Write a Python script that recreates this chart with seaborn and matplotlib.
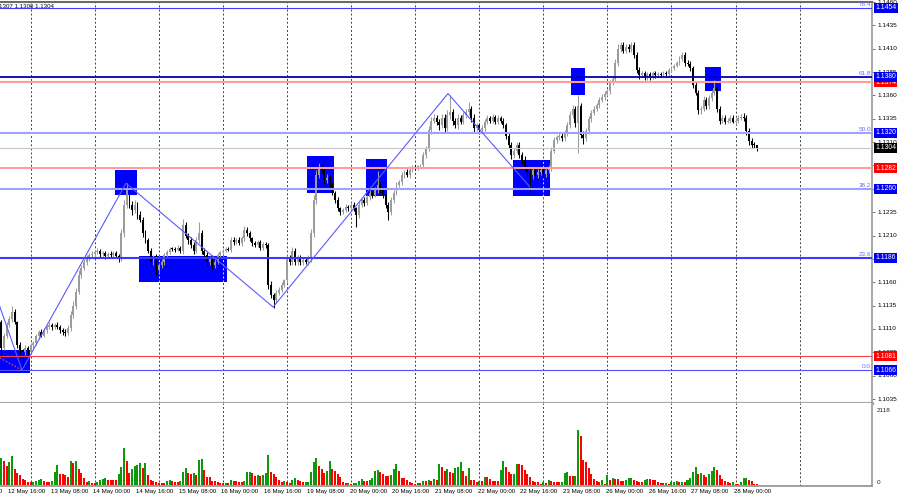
import numpy as np
import pandas as pd
import matplotlib
matplotlib.use("Agg")
import matplotlib.pyplot as plt
import matplotlib.transforms as mtransforms
from matplotlib.patches import Rectangle
import seaborn as sns

# ------------------------------------------------------------------ data
# EURUSD H1, 12 May 13:00 .. 28 May 08:00 (bar index 0 .. 283)
first_open = 1118  # pips: 1118 -> 1.1118
close_pips = [
    1090, 1103, 1114, 1121, 1128, 1117, 1093, 1087, 1085, 1090, 1085,
    1093, 1095, 1102, 1107, 1103, 1109, 1112, 1114, 1112, 1114, 1112, 1109, 1107,
    1106, 1111, 1125, 1135, 1150, 1168, 1175, 1182, 1186, 1189, 1190, 1192,
    1194, 1190, 1191, 1188, 1190, 1189, 1191, 1188, 1186, 1213, 1243, 1259,
    1243, 1237, 1243, 1232, 1227, 1213, 1205, 1194, 1182, 1186, 1173, 1178,
    1182, 1189, 1192, 1196, 1196, 1195, 1197, 1194, 1221, 1210, 1205, 1200,
    1194, 1205, 1213, 1194, 1189, 1182, 1186, 1178, 1182, 1189, 1192, 1194,
    1196, 1195, 1205, 1203, 1205, 1202, 1207, 1216, 1213, 1207, 1202, 1200,
    1203, 1197, 1201, 1200, 1157, 1146, 1141, 1149, 1152, 1157, 1162, 1186,
    1182, 1194, 1182, 1186, 1182, 1184, 1182, 1186, 1213, 1248, 1275, 1282,
    1280, 1269, 1272, 1264, 1256, 1248, 1239, 1235, 1237, 1241, 1239, 1243,
    1239, 1232, 1243, 1248, 1245, 1251, 1256, 1253, 1259, 1264, 1259, 1253,
    1243, 1235, 1248, 1256, 1264, 1267, 1275, 1278, 1275, 1280, 1283, 1282,
    1284, 1285, 1296, 1303, 1323, 1333, 1336, 1332, 1328, 1336, 1325, 1339,
    1342, 1333, 1328, 1336, 1332, 1339, 1342, 1346, 1336, 1325, 1328, 1323,
    1325, 1332, 1336, 1333, 1337, 1332, 1336, 1333, 1328, 1317, 1307, 1296,
    1301, 1307, 1296, 1291, 1282, 1278, 1275, 1280, 1275, 1278, 1280, 1276,
    1280, 1282, 1301, 1312, 1315, 1317, 1314, 1320, 1328, 1339, 1346, 1330,
    1349, 1318, 1314, 1322, 1335, 1341, 1346, 1350, 1355, 1358, 1362, 1365,
    1374, 1378, 1395, 1410, 1414, 1408, 1412, 1410, 1414, 1403, 1387, 1382,
    1384, 1379, 1383, 1380, 1384, 1382, 1383, 1382, 1384, 1383, 1387, 1389,
    1392, 1395, 1399, 1403, 1395, 1394, 1389, 1371, 1363, 1344, 1346, 1355,
    1349, 1357, 1363, 1368, 1346, 1333, 1336, 1332, 1333, 1336, 1332, 1333,
    1336, 1337, 1336, 1322, 1311, 1307, 1307, 1304,
]
wick_up = [
    2, 3, 4, 3, 7, 3, 2, 3, 2, 3, 2,
    2, 2, 3, 2, 3, 2, 2, 3, 2, 2, 3, 2, 2,
    3, 3, 4, 5, 4, 5, 3, 3, 3, 2, 4, 3,
    3, 2, 3, 2, 2, 3, 2, 2, 2, 4, 5, 7,
    5, 4, 5, 3, 4, 3, 3, 2, 3, 3, 4, 3,
    3, 2, 3, 2, 2, 2, 3, 2, 7, 4, 3, 3,
    3, 4, 11, 3, 3, 3, 2, 3, 3, 2, 2, 2,
    2, 2, 3, 3, 2, 3, 3, 4, 3, 2, 2, 2,
    2, 2, 2, 2, 2, 4, 3, 3, 3, 3, 2, 3,
    3, 4, 3, 3, 3, 2, 3, 3, 4, 5, 5, 6,
    4, 3, 4, 3, 3, 2, 3, 2, 2, 3, 2, 3,
    3, 2, 3, 2, 3, 2, 3, 2, 3, 15, 3, 3,
    3, 3, 3, 3, 3, 3, 3, 2, 3, 2, 2, 2,
    2, 2, 3, 3, 4, 4, 4, 3, 3, 4, 4, 5,
    18, 4, 3, 4, 3, 3, 3, 7, 3, 4, 3, 3,
    3, 3, 3, 2, 3, 2, 3, 2, 3, 3, 3, 3,
    3, 3, 3, 3, 4, 4, 3, 3, 3, 3, 3, 3,
    3, 3, 4, 4, 3, 3, 3, 3, 4, 4, 4, 3,
    11, 3, 4, 3, 3, 3, 3, 2, 3, 3, 3, 2,
    3, 3, 4, 5, 3, 3, 3, 3, 3, 3, 4, 3,
    2, 2, 2, 2, 2, 2, 2, 2, 2, 2, 2, 2,
    2, 2, 3, 3, 3, 3, 3, 3, 3, 3, 3, 4,
    3, 3, 3, 8, 3, 3, 3, 3, 3, 3, 3, 3,
    3, 3, 4, 3, 3, 3, 3, 0,
]
wick_dn = [
    10, 2, 3, 2, 3, 2, 3, 4, 19, 3, 2,
    2, 3, 2, 3, 2, 2, 3, 2, 3, 2, 2, 3, 3,
    4, 2, 3, 3, 4, 3, 3, 2, 3, 3, 2, 3,
    2, 3, 2, 3, 2, 2, 3, 2, 4, 3, 5, 4,
    4, 5, 3, 4, 3, 4, 3, 3, 4, 3, 5, 3,
    3, 3, 2, 2, 2, 3, 2, 3, 4, 3, 4, 3,
    4, 3, 3, 4, 3, 3, 3, 4, 3, 2, 2, 3,
    2, 2, 3, 3, 2, 2, 3, 3, 3, 3, 3, 2,
    2, 2, 2, 3, 4, 3, 8, 3, 3, 2, 2, 3,
    3, 3, 4, 3, 3, 3, 2, 3, 4, 5, 4, 3,
    3, 4, 3, 4, 3, 3, 3, 3, 2, 2, 3, 2,
    3, 13, 3, 2, 3, 2, 3, 3, 2, 3, 3, 3,
    4, 8, 3, 3, 3, 2, 3, 3, 2, 3, 2, 2,
    2, 2, 3, 3, 3, 4, 3, 4, 5, 3, 5, 3,
    4, 5, 3, 4, 3, 3, 3, 3, 4, 4, 3, 4,
    3, 3, 3, 3, 2, 3, 3, 3, 3, 4, 3, 4,
    3, 3, 3, 4, 4, 5, 18, 4, 4, 3, 3, 4,
    3, 3, 3, 3, 3, 3, 3, 3, 3, 3, 3, 4,
    32, 4, 6, 3, 3, 3, 2, 3, 3, 2, 3, 3,
    3, 3, 3, 3, 3, 3, 3, 3, 3, 3, 3, 4,
    2, 3, 2, 4, 2, 3, 2, 2, 2, 2, 2, 2,
    2, 2, 2, 2, 3, 3, 3, 3, 3, 4, 4, 3,
    3, 3, 3, 3, 4, 4, 3, 3, 2, 3, 2, 3,
    2, 2, 3, 4, 4, 3, 3, 4,
]
volume = [
    757, 680, 540, 650, 820, 465, 350, 285, 180, 130,
    85, 85, 95, 115, 150, 170, 115, 95, 85, 115,
    380, 560, 320, 320, 285, 230, 680, 635, 680, 445,
    350, 190, 85, 115, 65, 65, 75, 130, 170, 210,
    130, 130, 130, 130, 320, 510, 1040, 680, 350, 455,
    540, 570, 625, 490, 625, 285, 130, 115, 95, 65,
    55, 55, 115, 150, 115, 85, 85, 115, 360, 475,
    330, 300, 350, 285, 700, 730, 435, 230, 230, 115,
    105, 95, 65, 45, 55, 55, 140, 105, 105, 85,
    75, 115, 370, 380, 340, 255, 285, 255, 285, 350,
    840, 370, 320, 230, 130, 95, 115, 75, 65, 150,
    190, 130, 115, 75, 85, 95, 370, 660, 760, 540,
    445, 350, 400, 680, 445, 400, 320, 230, 85, 55,
    65, 40, 45, 55, 115, 160, 115, 115, 130, 210,
    390, 415, 360, 320, 255, 245, 285, 445, 585, 400,
    190, 190, 130, 95, 55, 40, 55, 55, 115, 115,
    150, 115, 160, 140, 585, 510, 400, 445,
    380, 350, 490, 510, 660, 400, 265, 490, 130, 130,
    75, 115, 115, 230, 230, 170, 115, 115, 115, 415,
    680, 510, 380, 300, 320, 605, 585, 560, 415, 320,
    230, 105, 95, 95, 40, 75, 55, 140, 115, 95,
    95, 85, 95, 340, 370, 245, 245, 265, 1550, 1370,
    700, 660, 475, 300, 170, 115, 85, 130, 40, 285,
    130, 190, 160, 160, 115, 115, 130, 190, 210, 130,
    115, 95, 95, 150, 160, 160, 130, 130, 95, 65,
    55, 65, 20, 75, 95, 115, 85, 95, 95, 130,
    190, 380, 510, 320, 350, 285, 230, 320, 400, 510,
    415, 285, 170, 115, 75, 65, 75, 40, 40, 95,
    190, 210, 150, 115, 20, 20,
]

# horizontal levels (price, right-axis label)
level_prices = [1.1454, 1.1380, 1.1374, 1.1320, 1.1304, 1.1282, 1.1260, 1.1186, 1.1081, 1.1066]
level_texts = ["1.1454", "1.1380", "1.1374", "1.1320", "1.1304", "1.1282", "1.1260", "1.1186", "1.1081", "1.1066"]
fib_prices = [1.1454, 1.1380, 1.1320, 1.1260, 1.1186, 1.1066]
fib_texts = ["76.4", "61.8", "50.0", "38.2", "23.6", "0.0"]

# zigzag swing points (bar index, price)
zigzag_bar = [-3, 7.75, 46.7, 101.8, 167.3, 198]
zigzag_price = [1.1154, 1.1066, 1.1266, 1.11335, 1.1362, 1.1262]

# drawn rectangles (bar range, price range)
box_bar0 = [-0.5, 42.6, 51.6, 114.5, 136.6, 191.6, 213.4, 263.6]
box_bar1 = [10.75, 50.8, 84.5, 124.6, 144.5, 205.5, 218.6, 269.6]
box_lo = [1.10629, 1.12533, 1.1160, 1.12554, 1.12522, 1.12522, 1.13602, 1.13645]
box_hi = [1.10875, 1.1280, 1.1188, 1.1295, 1.12918, 1.12907, 1.1389, 1.1390]

# daily separators (00:00 bars) and time labels
day_bars = [11, 35, 59, 83, 107, 131, 155, 179, 203, 227, 251, 275, 299]
time_bars = [-13, 3, 19, 35, 51, 67, 83, 99, 115, 131, 147, 163, 179, 195, 211, 227, 243, 259, 275]
time_texts = ["12 May 00:00", "12 May 16:00", "13 May 08:00", "14 May 00:00", "14 May 16:00",
              "15 May 08:00", "16 May 00:00", "16 May 16:00", "19 May 08:00", "20 May 00:00",
              "20 May 16:00", "21 May 08:00", "22 May 00:00", "22 May 16:00", "23 May 08:00",
              "26 May 00:00", "26 May 16:00", "27 May 08:00", "28 May 00:00"]
price_ticks = [1.1035, 1.1060, 1.1085, 1.1110, 1.1135, 1.1160, 1.1185, 1.1210, 1.1235, 1.1260,
               1.1285, 1.1310, 1.1335, 1.1360, 1.1385, 1.1410, 1.1435, 1.1460]
price_tick_texts = ["1.1035", "1.1060", "1.1085", "1.1110", "1.1135", "1.1160", "1.1185", "1.1210",
                    "1.1235", "1.1260", "1.1285", "1.1310", "1.1335", "1.1360", "1.1385", "1.1410",
                    "1.1435", "1.1460"]
header_text = "1.1307 1.1300 1.1304"
vol_max_text = "2118"

assert len(close_pips) == 284 and len(wick_up) == 284 and len(wick_dn) == 284 and len(volume) == 284

# ------------------------------------------------------------------ styling
sns.set_theme(style="white")
plt.rcParams["font.family"] = ["Liberation Sans", "DejaVu Sans"]

W, H = 900, 500
fig = plt.figure(figsize=(9, 5), dpi=100)
fig.patch.set_facecolor("white")


def axrect(x0, y0, x1, y1):
    return [x0 / W, 1 - y1 / H, (x1 - x0) / W, (y1 - y0) / H]


ax = fig.add_axes(axrect(0, 2, 872, 403))
axv = fig.add_axes(axrect(0, 403, 872, 486))

XMIN, XMAX = -0.487, 326.1
YMIN, YMAX = 1.103079, 1.145967

bars = np.arange(len(close_pips))
c = 1 + np.array(close_pips) / 1e4
o = np.r_[1 + first_open / 1e4, c[:-1]]
hi = np.maximum(o, c) + np.array(wick_up) / 1e4
lo = np.minimum(o, c) - np.array(wick_dn) / 1e4
up = c > o
UPC, DNC = "#9c9c9c", "#000000"
col = np.where(up, UPC, DNC)

# grid (dotted daily separators)
for b in day_bars:
    for a in (ax, axv):
        a.axvline(b, color="#404040", lw=0.7, ls=(0, (2, 2.2)), zorder=1)

# rectangles (background objects)
for b0, b1, l, h in zip(box_bar0, box_bar1, box_lo, box_hi):
    ax.add_patch(Rectangle((b0, l), b1 - b0, h - l, facecolor="#0000ff", edgecolor="none", zorder=2))
    for b in day_bars:
        if b0 < b < b1:
            ax.vlines(b, l, h, colors="#ffff00", lw=0.7, linestyles=(0, (2, 2.2)), zorder=2.5)

# candles
ax.vlines(bars, lo, hi, colors=col, lw=0.75, zorder=4)
ax.bar(bars, np.maximum(np.abs(c - o), 0.00005), bottom=np.minimum(o, c), width=0.72,
       color=col, linewidth=0, zorder=5)

# level lines
level_colors = ["#3c3cff", "#0000b4", "#ff9c9c", "#a0a0ff", "#c8c8c8", "#ff9c9c", "#a0a0ff",
                "#3a3aff", "#ff4040", "#5050ff"]
level_lw = [0.8, 1.3, 1.5, 1.5, 0.8, 1.5, 1.5, 1.5, 0.8, 0.8]
for p, cc, lw in zip(level_prices, level_colors, level_lw):
    ax.axhline(p, color=cc, lw=lw, zorder=6)

# zigzag line
zz = pd.DataFrame({"bar": zigzag_bar, "price": zigzag_price})
sns.lineplot(data=zz, x="bar", y="price", ax=ax, color="#5a5aff", lw=0.8, sort=False, zorder=7)
# small dotted trend inside first box
ax.plot([-0.5, 7.6], [1.1079, 1.10662], color="#ff5050", lw=0.8, ls=(0, (1.5, 1.5)), zorder=7)

ax.set_xlim(XMIN, XMAX)
ax.set_ylim(YMIN, YMAX)
ax.set_xlabel("")
ax.set_ylabel("")
ax.set_xticks([])
ax.yaxis.tick_right()
ax.set_yticks(price_ticks)
ax.tick_params(axis="y", which="both", length=2.4, width=0.6, color="#606060", labelright=False,
               labelleft=False, right=True, left=False)
for s in ("left",):
    ax.spines[s].set_visible(False)
ax.spines["top"].set_color("#6a6a6a")
ax.spines["top"].set_linewidth(1.5)
ax.spines["right"].set_color("#a0a0a0")
ax.spines["right"].set_linewidth(1.3)
ax.spines["bottom"].set_color("#a8a8a8")
ax.spines["bottom"].set_linewidth(2.3)

blend = mtransforms.blended_transform_factory(ax.transAxes, ax.transData)
# right price scale labels
for p, t in zip(price_ticks, price_tick_texts):
    ax.text(877 / 872, p, t, transform=blend, ha="left", va="center", fontsize=4.6,
            color="#000000", zorder=8)
# fibonacci level texts
for p, t in zip(fib_prices, fib_texts):
    ax.text(871 / 872, p + 0.00008, t, transform=blend, ha="right", va="bottom", fontsize=4.6,
            color="#6a6aff", zorder=8)
# level price boxes
box_colors = {"1.1374": "#ff0000", "1.1282": "#ff0000", "1.1081": "#ff0000", "1.1304": "#000000"}
order = [2, 5, 8, 4, 0, 1, 3, 6, 7, 9]
for z, k in enumerate(order):
    p, t = level_prices[k], level_texts[k]
    ax.text(875 / 872, p, t, transform=blend, ha="left", va="center", fontsize=4.9,
            color="white", zorder=9 + z * 0.01,
            bbox=dict(boxstyle="square,pad=0.22", fc=box_colors.get(t, "#0000f0"), ec="none"))

# header text
fig.text(-5.5 / W, 1 - 6.5 / H, header_text, fontsize=4.4, ha="left", va="center", color="#000000")

# ------------------------------------------------------------------ volume panel
vol = np.array(volume)
vdir = np.where(np.r_[True, vol[1:] > vol[:-1]], "up", "down")
dfv = pd.DataFrame({"bar": bars, "vol": vol, "dir": vdir})
sns.barplot(data=dfv, x="bar", y="vol", hue="dir", palette={"up": "#0a9a0a", "down": "#ff0000"},
            native_scale=True, width=0.75, errorbar=None, dodge=False, legend=False,
            saturation=1, linewidth=0, ax=axv, zorder=3)
axv.set_xlim(XMIN, XMAX)
axv.set_ylim(-28, 2316)
axv.set_xlabel("")
axv.set_ylabel("")
axv.set_xticks([])
axv.set_yticks([])
axv.spines["left"].set_visible(False)
axv.spines["top"].set_visible(False)
axv.spines["right"].set_color("#a0a0a0")
axv.spines["right"].set_linewidth(1.3)
axv.spines["bottom"].set_color("#909090")
axv.spines["bottom"].set_linewidth(1.2)

vblend = mtransforms.blended_transform_factory(axv.transAxes, axv.transData)
axv.text(877 / 872, 2118, vol_max_text, transform=vblend, ha="left", va="center", fontsize=4.6)
axv.text(877 / 872, 0, "0", transform=vblend, ha="left", va="bottom", fontsize=4.6)

# time labels
tblend = mtransforms.blended_transform_factory(axv.transData, fig.transFigure)
for b, t in zip(time_bars, time_texts):
    axv.text(b - 0.55, 1 - 492 / H, t, transform=tblend, ha="left", va="center", fontsize=4.4,
             color="#000000", clip_on=False)

fig.savefig("out.png", dpi=100, facecolor="white")
